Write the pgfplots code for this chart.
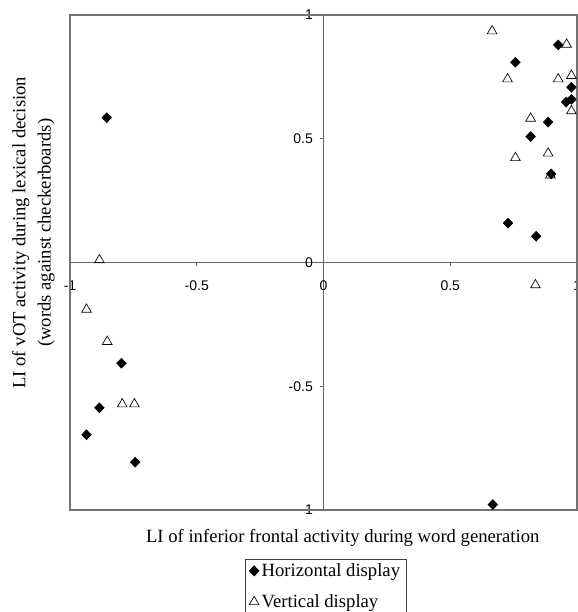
\documentclass[border=0pt]{standalone}
\usepackage{pgfplots}
\pgfplotsset{compat=1.18}
\usepackage{fontspec}
\setmainfont{Liberation Serif}
\newfontfamily\arialfont{Liberation Sans}
\begin{document}
\begin{tikzpicture}
\begin{axis}[
  name=ax,
  scale only axis, width=380.25pt, height=371.25pt,
  xmin=-1, xmax=1, ymin=-1, ymax=1,
  axis lines=middle,
  hide obscured x ticks=false, hide obscured y ticks=false,
  axis line style={draw=black!60, line width=0.8pt, -},
  xtick={-1,-0.5,0,0.5,1}, ytick={-1,-0.5,0,0.5,1},
  xticklabels={-1,-0.5,0,0.5,1}, yticklabels={-1,-0.5,0,0.5,1},
  tick style={draw=black!60, line width=0.8pt},
  tick align=outside,
  major tick length=3pt,
  ticklabel style={font=\arialfont\fontsize{10.5}{12}\selectfont},
  xticklabel style={yshift=-7pt},
  yticklabel style={xshift=-1.5pt},
  /pgf/number format/assume math mode=true,
  clip=false,
  legend style={at={(axis description cs:0.505,-0.099)}, anchor=north,
    draw=black!75, line width=0.6pt, font=\fontsize{14}{16}\selectfont,
    row sep=8pt, inner xsep=3pt, inner ysep=1pt},
  legend cell align=left,
  legend image code/.code={\draw[#1] plot coordinates {(0.15cm,0cm)};},
]
\draw[black!55, line width=0.8pt] (rel axis cs:0,0) rectangle (rel axis cs:1,1);
\addplot[only marks, mark=diamond*, mark size=3.7pt, mark options={xscale=1.3, fill=black, draw=black}] coordinates {
(0.926,0.879) (0.757,0.809) (0.978,0.708) (0.978,0.659) (0.957,0.648)
(0.886,0.567) (0.817,0.509) (0.898,0.358) (0.728,0.159) (0.839,0.106)
(0.668,-0.978) (-0.855,0.585) (-0.797,-0.407) (-0.884,-0.587)
(-0.935,-0.696) (-0.743,-0.807)
};
\addlegendentry{Horizontal display}
\addplot[only marks, mark=triangle, mark size=4.2pt, mark options={draw=black, line width=0.5pt}] coordinates {
(0.665,0.935) (0.959,0.881) (0.726,0.741) (0.926,0.741) (0.978,0.755)
(0.978,0.612) (0.817,0.582) (0.886,0.441) (0.757,0.423) (0.895,0.353)
(0.836,-0.091) (-0.884,0.010) (-0.935,-0.190) (-0.853,-0.320)
(-0.794,-0.572) (-0.746,-0.572)
};
\addlegendentry{Vertical display}
\node[rotate=90, anchor=center, align=center, font=\fontsize{14}{19}\selectfont]
  at (axis description cs:-0.072,0.56) {LI of vOT activity during lexical decision\\(words against checkerboards)};
\node[anchor=center, font=\fontsize{14}{16}\selectfont]
  at (axis description cs:0.538,-0.057) {LI of inferior frontal activity during word generation};
\end{axis}
\pgfresetboundingbox
\path[use as bounding box] ([xshift=-52.5pt,yshift=-76.5pt]ax.south west) rectangle ([yshift=11.25pt]ax.north east);
\end{tikzpicture}
\end{document}
